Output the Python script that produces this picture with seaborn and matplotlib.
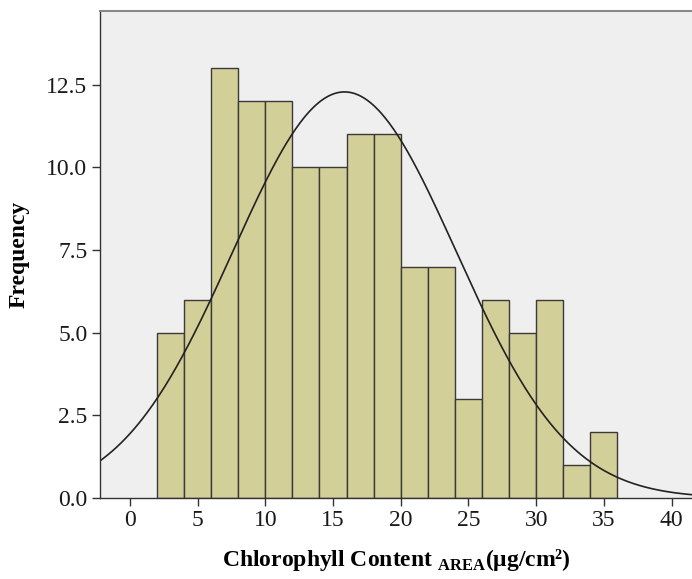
import numpy as np
import pandas as pd
import matplotlib
matplotlib.use("Agg")
import matplotlib.pyplot as plt
import seaborn as sns

# Data
bin_edges = [2, 4, 6, 8, 10, 12, 14, 16, 18, 20, 22, 24, 26, 28, 30, 32, 34, 36]
counts = [5, 6, 13, 12, 12, 10, 10, 11, 11, 7, 7, 3, 6, 5, 6, 1, 2]
curve_mean = 15.85
curve_sd = 8.25
x_ticks = [0, 5, 10, 15, 20, 25, 30, 35, 40]
y_ticks = [0.0, 2.5, 5.0, 7.5, 10.0, 12.5]

sns.set_theme(style="white")
plt.rcParams["font.family"] = ["Liberation Serif", "DejaVu Serif"]
plt.rcParams["mathtext.fontset"] = "custom"
plt.rcParams["mathtext.rm"] = "Liberation Serif"
plt.rcParams["mathtext.bf"] = "Liberation Serif:bold"
plt.rcParams["text.color"] = "black"
plt.rcParams["axes.labelcolor"] = "black"
plt.rcParams["xtick.color"] = "black"
plt.rcParams["ytick.color"] = "black"

fig = plt.figure(figsize=(6.92, 5.79), dpi=100)
ax = fig.add_axes([0.1445, 0.14, 0.8555, 0.841])
ax.set_facecolor("#efefef")

centers = [(bin_edges[i] + bin_edges[i + 1]) / 2 for i in range(len(counts))]
df = pd.DataFrame({"x": centers, "w": counts})
sns.histplot(data=df, x="x", weights="w", bins=bin_edges, ax=ax,
             color="#d3cf98", alpha=1.0, edgecolor="#3a3a3a", linewidth=1.0)

n = sum(counts)
bw = bin_edges[1] - bin_edges[0]
xs = np.linspace(-2.3, 41.6, 400)
ys = n * bw / (curve_sd * np.sqrt(2 * np.pi)) * np.exp(-0.5 * ((xs - curve_mean) / curve_sd) ** 2)
sns.lineplot(x=xs, y=ys, ax=ax, color="#222222", linewidth=1.2)

ax.set_xlim(-2.2, 41.5)
ax.set_ylim(0, 14.73)
ax.set_xticks(x_ticks)
ax.set_xticklabels([str(t) for t in x_ticks])
ax.set_yticks(y_ticks)
ax.set_yticklabels([f"{t:.1f}" for t in y_ticks])
ax.tick_params(axis="both", direction="out", length=6, width=1.0, color="#333333",
               labelsize=17, labelcolor="#1a1a1a", pad=3, bottom=True, left=True)

for s in ["left", "bottom"]:
    ax.spines[s].set_color("#333333")
    ax.spines[s].set_linewidth(1.0)
ax.spines["top"].set_color("#888888")
ax.spines["top"].set_linewidth(1.5)
ax.spines["right"].set_visible(False)

ax.set_xlabel(r"Chlorophyll Content $_{\mathbf{AREA}}$(μg/cm²)",
              fontsize=17, fontweight="bold", labelpad=11, color="black")
ax.set_ylabel("Frequency", fontsize=17, fontweight="bold", labelpad=12, color="black")

fig.savefig("out.png", dpi=100)
